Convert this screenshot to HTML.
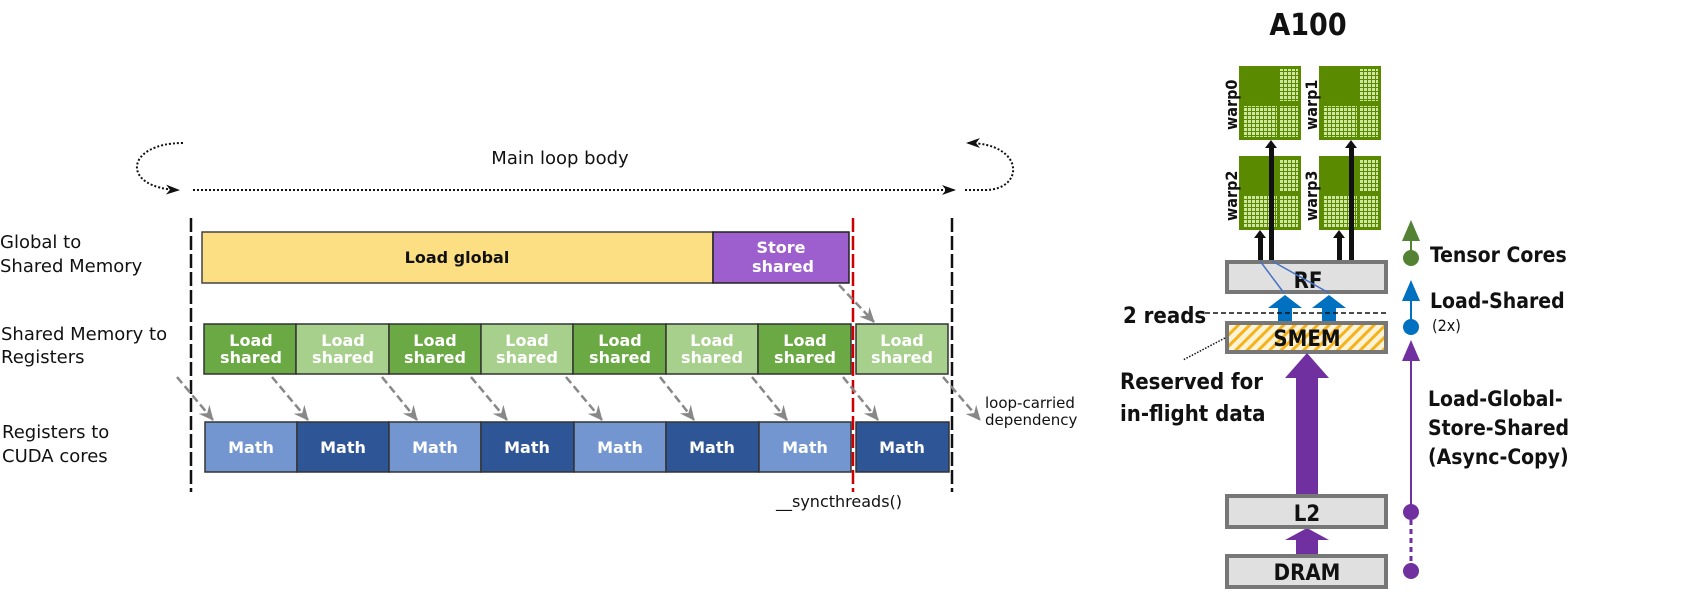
<!DOCTYPE html>
<html><head><meta charset="utf-8"><style>
html,body{margin:0;padding:0;background:#fff;width:1684px;height:600px;overflow:hidden}
svg{display:block}
.l{font-family:"DejaVu Sans","Liberation Sans",sans-serif;font-size:18px;fill:#111}
.b{font-family:"DejaVu Sans","Liberation Sans",sans-serif;font-size:16px;font-weight:bold;fill:#fff;text-anchor:middle}
.r{font-family:"DejaVu Sans Condensed","DejaVu Sans","Liberation Sans",sans-serif;font-weight:bold;fill:#111}
</style></head><body>
<svg width="1684" height="600" viewBox="0 0 1684 600" xmlns="http://www.w3.org/2000/svg">
<defs>
<marker id="ah" markerWidth="14" markerHeight="10" refX="12" refY="5" orient="auto" markerUnits="userSpaceOnUse"><path d="M0,0 L14,5 L0,10 L4,5z" fill="#111"/></marker>
<marker id="ga" markerWidth="16" markerHeight="16" refX="14" refY="8" orient="auto" markerUnits="userSpaceOnUse"><path d="M0,1 L15,8 L0,15 L5,8z" fill="#888"/></marker>
<pattern id="hatch" width="8" height="8" patternUnits="userSpaceOnUse" patternTransform="rotate(45)"><rect width="8" height="8" fill="#fff3d6"/><rect width="3" height="8" fill="#f5b21b"/></pattern>
<pattern id="grid" width="4" height="4" patternUnits="userSpaceOnUse"><rect width="4" height="4" fill="#5a8a00"/><rect x="0" y="0" width="3" height="3" fill="#cfe6a0"/></pattern>
</defs>

<!-- left diagram -->
<text class="l" x="560" y="164" text-anchor="middle">Main loop body</text>
<path d="M183,143 C125,143 120,188 178,190" fill="none" stroke="#111" stroke-width="2" stroke-dasharray="2,2" marker-end="url(#ah)"/>
<line x1="193" y1="190" x2="954" y2="190" stroke="#111" stroke-width="2" stroke-dasharray="2,2" marker-end="url(#ah)"/>
<line x1="965" y1="190" x2="985" y2="190" stroke="#111" stroke-width="2" stroke-dasharray="2,2"/>
<path d="M985,190 C1025,190 1025,143 968,143" fill="none" stroke="#111" stroke-width="2" stroke-dasharray="2,2" marker-end="url(#ah)"/>

<text class="l" x="0" y="248">Global to</text>
<text class="l" x="0" y="272">Shared Memory</text>
<text class="l" x="1" y="340">Shared Memory to</text>
<text class="l" x="1" y="363">Registers</text>
<text class="l" x="2" y="438">Registers to</text>
<text class="l" x="2" y="462">CUDA cores</text>

<line x1="191" y1="218" x2="191" y2="492" stroke="#111" stroke-width="2.5" stroke-dasharray="14,4"/>
<line x1="952" y1="218" x2="952" y2="492" stroke="#111" stroke-width="2.5" stroke-dasharray="14,4"/>

<rect x="202" y="232" width="511" height="51" fill="#fcdf82" stroke="#444" stroke-width="1.5"/>
<text class="b" x="457" y="263" style="fill:#111">Load global</text>
<rect x="713" y="232" width="136" height="51" fill="#9e5fce" stroke="#222" stroke-width="1.5"/>
<text class="b" x="781" y="253">Store</text><text class="b" x="783" y="272">shared</text>

<g stroke="#333" stroke-width="1.5">
<rect x="204" y="324" width="92" height="50" fill="#6aa944"/>
<rect x="296" y="324" width="93" height="50" fill="#a8d08d"/>
<rect x="389" y="324" width="92" height="50" fill="#6aa944"/>
<rect x="481" y="324" width="92" height="50" fill="#a8d08d"/>
<rect x="573" y="324" width="93" height="50" fill="#6aa944"/>
<rect x="666" y="324" width="92" height="50" fill="#a8d08d"/>
<rect x="758" y="324" width="93" height="50" fill="#6aa944"/>
<rect x="856" y="324" width="92" height="50" fill="#a8d08d"/>
<rect x="205" y="422" width="92" height="50" fill="#7396d0"/>
<rect x="297" y="422" width="92" height="50" fill="#2e5595"/>
<rect x="389" y="422" width="92" height="50" fill="#7396d0"/>
<rect x="481" y="422" width="93" height="50" fill="#2e5595"/>
<rect x="574" y="422" width="92" height="50" fill="#7396d0"/>
<rect x="666" y="422" width="93" height="50" fill="#2e5595"/>
<rect x="759" y="422" width="92" height="50" fill="#7396d0"/>
<rect x="856" y="422" width="93" height="50" fill="#2e5595"/>
</g>
<g>
<text class="b" x="251" y="346">Load</text><text class="b" x="251" y="363">shared</text>
<text class="b" x="343" y="346">Load</text><text class="b" x="343" y="363">shared</text>
<text class="b" x="435" y="346">Load</text><text class="b" x="435" y="363">shared</text>
<text class="b" x="527" y="346">Load</text><text class="b" x="527" y="363">shared</text>
<text class="b" x="620" y="346">Load</text><text class="b" x="620" y="363">shared</text>
<text class="b" x="712" y="346">Load</text><text class="b" x="712" y="363">shared</text>
<text class="b" x="805" y="346">Load</text><text class="b" x="805" y="363">shared</text>
<text class="b" x="902" y="346">Load</text><text class="b" x="902" y="363">shared</text>
<text class="b" x="251" y="453">Math</text><text class="b" x="343" y="453">Math</text>
<text class="b" x="435" y="453">Math</text><text class="b" x="527" y="453">Math</text>
<text class="b" x="620" y="453">Math</text><text class="b" x="712" y="453">Math</text>
<text class="b" x="805" y="453">Math</text><text class="b" x="902" y="453">Math</text>
</g>
<line x1="853" y1="218" x2="853" y2="492" stroke="#c00" stroke-width="2.5" stroke-dasharray="14,4"/>

<g stroke="#888" stroke-width="2.5" stroke-dasharray="8,4" marker-end="url(#ga)">
<line x1="177" y1="377" x2="213" y2="420"/>
<line x1="272" y1="377" x2="308" y2="420"/>
<line x1="382" y1="377" x2="417" y2="420"/>
<line x1="471" y1="377" x2="507" y2="420"/>
<line x1="566" y1="377" x2="602" y2="420"/>
<line x1="660" y1="377" x2="694" y2="420"/>
<line x1="752" y1="377" x2="787" y2="420"/>
<line x1="843" y1="377" x2="878" y2="420"/>
<line x1="839" y1="285" x2="874" y2="322"/>
<line x1="943" y1="377" x2="980" y2="420"/>
</g>
<text class="l" x="985" y="408" style="font-size:15px">loop-carried</text>
<text class="l" x="985" y="425" style="font-size:15px">dependency</text>
<text class="l" x="776" y="507" style="font-size:16px">__syncthreads()</text>

<!-- right diagram -->
<text class="r" x="1308" y="35" text-anchor="middle" style="font-size:30px">A100</text>
<g>
<rect x="1239" y="66" width="62" height="74" fill="#5a8a00"/>
<rect x="1280" y="69" width="18" height="32" fill="url(#grid)"/>
<rect x="1243" y="106" width="34" height="31" fill="url(#grid)"/>
<rect x="1280" y="106" width="18" height="31" fill="url(#grid)"/>
<rect x="1319" y="66" width="62" height="74" fill="#5a8a00"/>
<rect x="1360" y="69" width="18" height="32" fill="url(#grid)"/>
<rect x="1323" y="106" width="34" height="31" fill="url(#grid)"/>
<rect x="1360" y="106" width="18" height="31" fill="url(#grid)"/>
<rect x="1239" y="156" width="62" height="74" fill="#5a8a00"/>
<rect x="1280" y="159" width="18" height="32" fill="url(#grid)"/>
<rect x="1243" y="196" width="34" height="31" fill="url(#grid)"/>
<rect x="1280" y="196" width="18" height="31" fill="url(#grid)"/>
<rect x="1319" y="156" width="62" height="74" fill="#5a8a00"/>
<rect x="1360" y="159" width="18" height="32" fill="url(#grid)"/>
<rect x="1323" y="196" width="34" height="31" fill="url(#grid)"/>
<rect x="1360" y="196" width="18" height="31" fill="url(#grid)"/>
</g>
<g class="r" style="font-size:16px">
<text transform="translate(1237,130) rotate(-90)">warp0</text>
<text transform="translate(1317,130) rotate(-90)">warp1</text>
<text transform="translate(1237,221) rotate(-90)">warp2</text>
<text transform="translate(1317,221) rotate(-90)">warp3</text>
</g>
<g fill="#111">
<rect x="1258" y="237" width="5" height="24"/><path d="M1254,238 L1260,230 L1266,238z"/>
<rect x="1269" y="146" width="5" height="115"/><path d="M1265,148 L1271,140 L1277,148z"/>
<rect x="1337" y="237" width="5" height="24"/><path d="M1333,238 L1339,230 L1345,238z"/>
<rect x="1349" y="146" width="5" height="115"/><path d="M1345,148 L1351,140 L1357,148z"/>
</g>
<rect x="1227" y="262" width="159" height="30" fill="#e0e0e0" stroke="#777" stroke-width="4"/>
<text class="r" x="1308" y="288" text-anchor="middle" style="font-size:22px">RF</text>
<path d="M1260,261 L1284,293 M1272,261 L1329,293" stroke="#4472c4" stroke-width="1.5"/>
<g fill="#0070c0">
<rect x="1278" y="306" width="14" height="18"/><path d="M1268,308 L1285,295 L1302,308z"/>
<rect x="1322" y="306" width="14" height="18"/><path d="M1312,308 L1329,295 L1346,308z"/>
</g>
<line x1="1205" y1="313" x2="1387" y2="313" stroke="#111" stroke-width="1.5" stroke-dasharray="5,3"/>
<text class="r" x="1123" y="323" style="font-size:22px">2 reads</text>
<rect x="1227" y="323" width="159" height="29" fill="url(#hatch)" stroke="#777" stroke-width="4"/>
<text class="r" x="1307" y="346" text-anchor="middle" style="font-size:22px">SMEM</text>
<line x1="1225" y1="338" x2="1183" y2="360" stroke="#111" stroke-width="1.5" stroke-dasharray="1.5,1.5"/>
<text class="r" x="1120" y="389" style="font-size:22px">Reserved for</text>
<text class="r" x="1120" y="421" style="font-size:22px">in-flight data</text>
<g fill="#7030a0">
<rect x="1296" y="376" width="22" height="120"/><path d="M1285,378 L1307,353 L1329,378z"/>
<rect x="1296" y="538" width="22" height="17"/><path d="M1285,540 L1307,528 L1329,540z"/>
</g>
<rect x="1227" y="496" width="159" height="31" fill="#e0e0e0" stroke="#777" stroke-width="4"/>
<text class="r" x="1307" y="521" text-anchor="middle" style="font-size:22px">L2</text>
<rect x="1227" y="556" width="159" height="31" fill="#e0e0e0" stroke="#777" stroke-width="4"/>
<text class="r" x="1307" y="580" text-anchor="middle" style="font-size:22px">DRAM</text>

<!-- timeline -->
<line x1="1411" y1="235" x2="1411" y2="258" stroke="#548235" stroke-width="2"/>
<path d="M1402,241 L1411,220 L1420,241z" fill="#548235"/>
<circle cx="1411" cy="258" r="8" fill="#548235"/>
<line x1="1411" y1="290" x2="1411" y2="327" stroke="#0070c0" stroke-width="2"/>
<path d="M1402,301 L1411,280 L1420,301z" fill="#0070c0"/>
<circle cx="1411" cy="327" r="8" fill="#0070c0"/>
<line x1="1411" y1="350" x2="1411" y2="512" stroke="#7030a0" stroke-width="2"/>
<path d="M1402,361 L1411,340 L1420,361z" fill="#7030a0"/>
<circle cx="1411" cy="512" r="8" fill="#7030a0"/>
<line x1="1411" y1="520" x2="1411" y2="568" stroke="#7030a0" stroke-width="3" stroke-dasharray="5,4"/>
<circle cx="1411" cy="571" r="8" fill="#7030a0"/>
<text class="r" x="1430" y="262" style="font-size:21px">Tensor Cores</text>
<text class="r" x="1430" y="308" style="font-size:21px">Load-Shared</text>
<text class="r" x="1432" y="331" style="font-size:16px;font-weight:normal">(2x)</text>
<text class="r" x="1428" y="406" style="font-size:21px">Load-Global-</text>
<text class="r" x="1428" y="435" style="font-size:21px">Store-Shared</text>
<text class="r" x="1428" y="464" style="font-size:21px">(Async-Copy)</text>
</svg>
</body></html>
